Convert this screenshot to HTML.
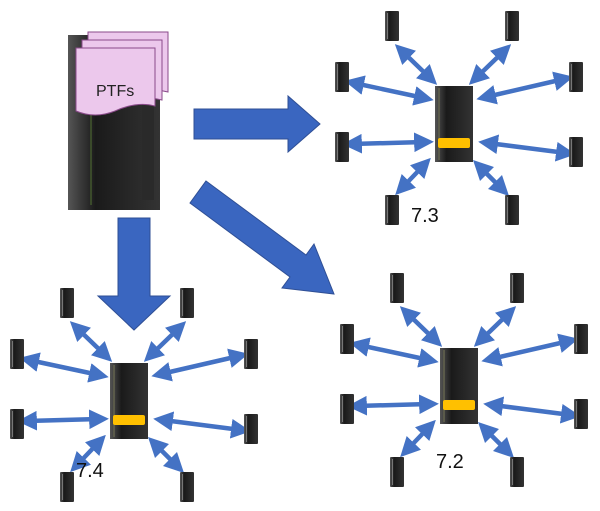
<!DOCTYPE html>
<html><head><style>body{margin:0;background:#fff}svg{display:block}</style></head><body>
<svg width="600" height="511" viewBox="0 0 600 511" xmlns="http://www.w3.org/2000/svg">
<defs>
<linearGradient id="sv" x1="0" x2="1"><stop offset="0" stop-color="#555"/><stop offset="0.3" stop-color="#1a1a1a"/><stop offset="1" stop-color="#333"/></linearGradient>
<marker id="ah" viewBox="0 0 10 10" refX="5" refY="5" markerWidth="4.4" markerHeight="4.4" orient="auto-start-reverse"><path d="M0,0 L10,5 L0,10 z" fill="#4472C4"/></marker>
<g id="small"><rect x="-7" y="-15" width="14" height="30" rx="1" fill="url(#sv)"/><rect x="-5" y="-13" width="1" height="26" fill="#777"/></g>
<g id="cl">
<g stroke="#4472C4" stroke-width="4.5" marker-start="url(#ah)" marker-end="url(#ah)">
<line x1="-52" y1="-72" x2="-24" y2="-45"/>
<line x1="50" y1="-72" x2="22" y2="-45"/>
<line x1="-100" y1="-40" x2="-30" y2="-25"/>
<line x1="110" y1="-44" x2="32" y2="-26"/>
<line x1="-102" y1="21" x2="-30" y2="19"/>
<line x1="112" y1="30" x2="34" y2="20"/>
<line x1="-52" y1="65" x2="-30" y2="42"/>
<line x1="48" y1="66" x2="26" y2="44"/>
</g>
<rect x="-19" y="-37" width="38" height="76" fill="url(#sv)"/>
<rect x="-16" y="-35" width="2" height="72" fill="#5a5a4a"/>
<rect x="-16" y="15" width="32" height="10" rx="2" fill="#FFC000"/>
<use href="#small" x="-62" y="-97"/><use href="#small" x="58" y="-97"/>
<use href="#small" x="-112" y="-46"/><use href="#small" x="122" y="-46"/>
<use href="#small" x="-112" y="24"/><use href="#small" x="122" y="29"/>
<use href="#small" x="-62" y="87"/><use href="#small" x="58" y="87"/>
</g>
</defs>
<use href="#cl" x="454" y="123"/>
<use href="#cl" x="129" y="400"/>
<use href="#cl" x="459" y="385"/>
<g font-family="Liberation Sans, sans-serif" font-size="20" fill="#111">
<text x="411" y="222">7.3</text><text x="76" y="477">7.4</text><text x="436" y="468">7.2</text>
</g>
<g fill="#3A66C0" stroke="#2F4F95" stroke-width="1">
<polygon points="194,109 288,109 288,96 320,124 288,152 288,139 194,139"/>
<polygon points="118,218 150,218 150,296 170,296 134,330 98,296 118,296"/>
<polygon points="206,181 306,255 314,244 334,294 282,288 290,277 190,203"/>
</g>
<rect x="68" y="35" width="92" height="175" fill="url(#sv)"/>
<rect x="90" y="40" width="2" height="165" fill="#3a4a2a"/>
<rect x="142" y="60" width="12" height="140" fill="#2a2a2a"/>
<g fill="#ecc8ec" stroke="#8a4a8a" stroke-width="1">
<path d="M88,32 H168 V92 Q150,87 128,97 Q108,105 88,97 Z"/>
<path d="M82,40 H162 V100 Q144,95 122,105 Q102,113 82,105 Z"/>
<path d="M76,48 H155 V106 Q137,101 115,111 Q95,119 76,111 Z"/>
</g>
<text x="96" y="96" font-family="Liberation Sans, sans-serif" font-size="16" fill="#222">PTFs</text>
</svg>
</body></html>
